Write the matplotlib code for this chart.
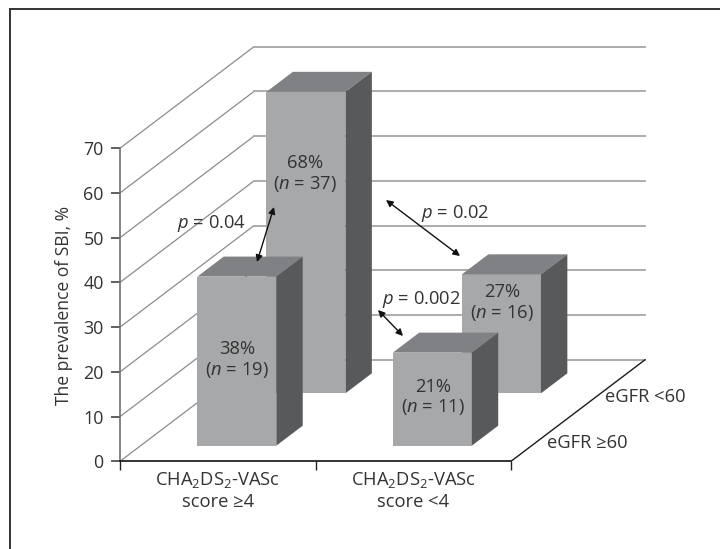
import matplotlib
matplotlib.use("Agg")
import matplotlib.pyplot as plt
from matplotlib.patches import Polygon

plt.rcParams['font.family'] = ['Open Sans', 'DejaVu Sans']
plt.rcParams['mathtext.fontset'] = 'custom'
plt.rcParams['mathtext.rm'] = 'Open Sans'
plt.rcParams['mathtext.it'] = 'Open Sans:italic'
plt.rcParams['mathtext.default'] = 'regular'

# ---- data ----
groups = ['CHA$_2$DS$_2$-VASc\nscore ≥4', 'CHA$_2$DS$_2$-VASc\nscore <4']
rows = ['eGFR ≥60', 'eGFR <60']
values_egfr_ge60 = [37.8, 20.8]
values_egfr_lt60 = [67.4, 26.6]
labels_egfr_ge60 = ['38%\n($\\it{n}$ = 19)', '21%\n($\\it{n}$ = 11)']
labels_egfr_lt60 = ['68%\n($\\it{n}$ = 37)', '27%\n($\\it{n}$ = 16)']
yticks = [0, 10, 20, 30, 40, 50, 60, 70]
ylabel = 'The prevalence of SBI, %'

W, H = 720, 549
TXT = '#333333'
FS = 13.2
LS = 1.12

fig = plt.figure(figsize=(W / 100, H / 100), dpi=100)
# axes: x = category units, y = percent; depth is sheared onto them
PX_CAT = 195.5
PX_VAL = 4.473
x0_px, y0_px = 120, 461.3
x1_px, y1_px = 660, 30
ax = fig.add_axes([x0_px / W, 1 - y0_px / H, (x1_px - x0_px) / W, (y0_px - y1_px) / H])
ax.set_xlim(0, (x1_px - x0_px) / PX_CAT)
ax.set_ylim(0, (y0_px - y1_px) / PX_VAL)
ax.patch.set_alpha(0)

DX = 134 / PX_CAT      # shift in x per unit of depth
DY = 101.5 / PX_VAL    # shift in y per unit of depth


def P(c, d, v):
    return (c + DX * d, v + DY * d)


# side wall, back wall, floor edge
for v in yticks:
    ax.plot(*zip(P(0, 0, v), P(0, 1, v)), color='#8c8c8c', lw=0.9, zorder=1, solid_capstyle='round')
    ax.plot(*zip(P(0, 1, v), P(2, 1, v)), color='#a6a6a6', lw=1.3, zorder=1)
ax.plot(*zip(P(2, 0, 0), P(2, 1, 0)), color='#1a1a1a', lw=1.0, zorder=1)

# bars
BAR_W = 0.404
BAR_D = 0.197
C_FRONT = '#a7a8aa'
C_TOP = '#808184'
C_SIDE = '#58595b'


def bar(c, d, v, z):
    xa = c
    xb = c + BAR_W
    d2 = d + BAR_D
    ax.add_patch(Polygon([P(xa, d, 0), P(xb, d, 0), P(xb, d, v), P(xa, d, v)], fc=C_FRONT, ec='none', zorder=z))
    ax.add_patch(Polygon([P(xa, d, v), P(xb, d, v), P(xb, d2, v), P(xa, d2, v)], fc=C_TOP, ec='none', zorder=z))
    ax.add_patch(Polygon([P(xb, d, 0), P(xb, d2, 0), P(xb, d2, v), P(xb, d, v)], fc=C_SIDE, ec='none', zorder=z))


OFFS = 0.29
D_ROW = [0.154, 0.67]
for i, v in enumerate(values_egfr_lt60):
    bar(i + OFFS, D_ROW[1], v, 2)
for i, v in enumerate(values_egfr_ge60):
    bar(i + OFFS, D_ROW[0], v, 3)

# axes furniture
for s in ('top', 'right'):
    ax.spines[s].set_visible(False)
ax.spines['left'].set_bounds(0, 70)
ax.spines['left'].set_color('#707070')
ax.spines['left'].set_linewidth(1.2)
ax.spines['bottom'].set_bounds(0, 2)
ax.spines['bottom'].set_color('#111111')
ax.spines['bottom'].set_linewidth(1.2)
ax.set_yticks(yticks)
ax.set_xticks([0, 1, 2])
ax.set_xticklabels([])
ax.set_xticks([0.5, 1.5], minor=True)
ax.set_xticklabels(groups, minor=True, fontsize=FS, color=TXT, linespacing=1.18)
ax.tick_params(axis='x', which='major', length=6.5, width=1.0, color='#222222')
ax.tick_params(axis='x', which='minor', length=0, pad=6.3)
ax.tick_params(axis='y', length=6.2, width=1.1, color='#333333', labelsize=12.9, labelcolor=TXT, pad=5.5)
ax.set_ylabel(ylabel, fontsize=12.65, color=TXT)
ax.yaxis.set_label_coords(-0.087, 0.361)


def px(x, y):
    return ((x - x0_px) / PX_CAT, (y0_px - y) / PX_VAL)


# bar labels and annotations, placed in figure pixels
def txt(x, y, s):
    ax.text(*px(x, y), s, ha='center', va='center', fontsize=FS, color=TXT, zorder=6, linespacing=LS)


txt(305, 174, labels_egfr_lt60[0])
txt(237, 360, labels_egfr_ge60[0])
txt(433, 397.5, labels_egfr_ge60[1])
txt(502, 303, labels_egfr_lt60[1])
txt(212, 223, '$\\it{p}$ = 0.04')
txt(455, 213, '$\\it{p}$ = 0.02')
txt(421.5, 299, '$\\it{p}$ = 0.002')
txt(645, 397, rows[1])
txt(587, 443, rows[0])

ARROWS = [((274, 207), (257, 262)), ((386, 200), (460, 256)), ((378, 310), (403, 336))]
for a, b in ARROWS:
    ax.annotate('', xy=px(*b), xytext=px(*a), xycoords='data', textcoords='data', zorder=7,
                arrowprops=dict(arrowstyle='<|-|>', color='#111111', lw=1.0, mutation_scale=10,
                                shrinkA=0, shrinkB=0))

# outer frame lines
fig.add_artist(plt.Line2D([9.5 / W, 9.5 / W], [0, 1 - 9 / H], color='#333333', lw=1.4))
fig.add_artist(plt.Line2D([9.5 / W, 1], [1 - 9 / H, 1 - 9 / H], color='#333333', lw=1.4))

fig.savefig('out.png', dpi=100, facecolor='white')
